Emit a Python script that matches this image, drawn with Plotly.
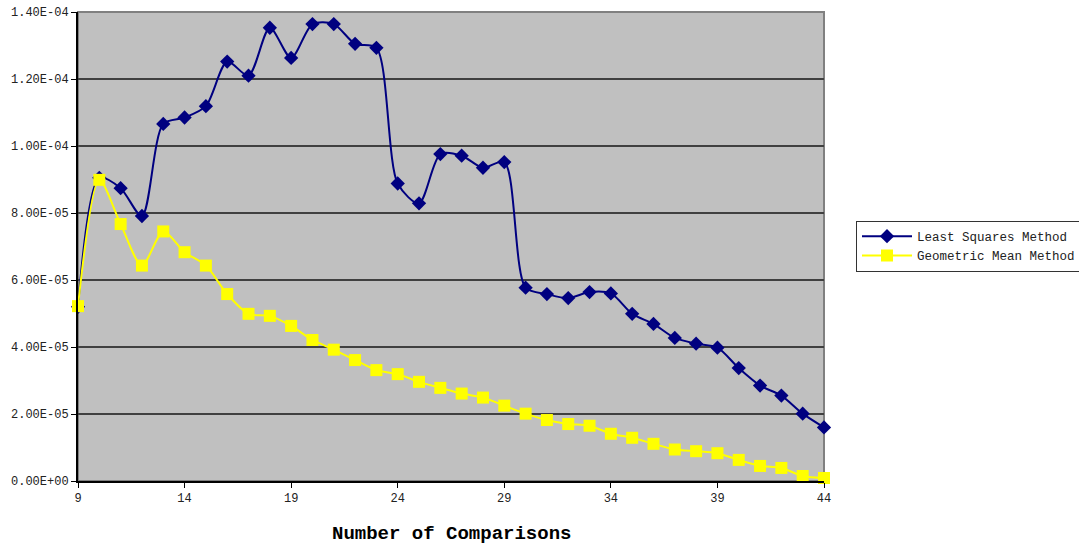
import plotly.graph_objects as go

# Number of comparisons (x categories)
comparisons = list(range(9, 45))

# Least squares method error values
least_squares = [
    52.0e-6, 90.5e-6, 87.4e-6, 79.1e-6, 106.6e-6, 108.5e-6, 111.9e-6, 125.2e-6,
    121.0e-6, 135.3e-6, 126.3e-6, 136.4e-6, 136.4e-6, 130.5e-6, 129.3e-6, 88.8e-6,
    82.9e-6, 97.6e-6, 97.1e-6, 93.5e-6, 95.2e-6, 57.7e-6, 55.8e-6, 54.6e-6,
    56.4e-6, 56.0e-6, 49.9e-6, 46.9e-6, 42.7e-6, 41.0e-6, 39.8e-6, 33.7e-6,
    28.5e-6, 25.5e-6, 20.1e-6, 16.0e-6,
]

# Geometric mean method error values
geometric_mean = [
    52.2e-6, 89.9e-6, 76.7e-6, 64.3e-6, 74.5e-6, 68.3e-6, 64.3e-6, 55.8e-6,
    49.9e-6, 49.3e-6, 46.3e-6, 42.1e-6, 39.2e-6, 36.1e-6, 33.1e-6, 31.9e-6,
    29.6e-6, 27.8e-6, 26.1e-6, 24.9e-6, 22.5e-6, 20.1e-6, 18.2e-6, 17.0e-6,
    16.5e-6, 14.1e-6, 12.9e-6, 11.1e-6, 9.4e-6, 8.9e-6, 8.3e-6, 6.3e-6,
    4.5e-6, 3.9e-6, 1.5e-6, 0.9e-6,
]

x_ticks = [9, 14, 19, 24, 29, 34, 39, 44]
y_ticks = [0, 2e-5, 4e-5, 6e-5, 8e-5, 1e-4, 1.2e-4, 1.4e-4]
y_ticktext = [f"{v:.2E}" for v in y_ticks]

FONT = "Liberation Mono"
W, H = 1079, 548

fig = go.Figure()
fig.add_trace(go.Scatter(
    x=comparisons, y=least_squares, name="Least Squares Method",
    mode="lines+markers",
    line=dict(color="#000080", width=2, shape="spline", smoothing=0.8),
    marker=dict(symbol="diamond", size=11, color="#000080"),
    cliponaxis=False,
))
fig.add_trace(go.Scatter(
    x=comparisons, y=geometric_mean, name="Geometric Mean Method",
    mode="lines+markers",
    line=dict(color="#FFFF00", width=2, shape="spline", smoothing=0.8),
    marker=dict(symbol="square", size=12, color="#FFFF00"),
    cliponaxis=False,
))

# Plot-area frame (grey top/right edges)
fig.add_shape(type="rect", xref="x domain", yref="y domain",
              x0=0, x1=1, y0=0, y1=1, line=dict(color="#808080", width=2),
              layer="below")

# Axis title below the tick labels
fig.add_annotation(
    text="<b>Number of Comparisons</b>", showarrow=False,
    xref="x domain", x=0.5, xanchor="center",
    yref="paper", y=-(534 - 481) / (H - 12 - 67), yanchor="middle",
    font=dict(family=FONT, size=19, color="black"),
)

fig.update_layout(
    width=W, height=H,
    margin=dict(l=78, r=255, t=12, b=67),
    paper_bgcolor="white",
    plot_bgcolor="#C0C0C0",
    font=dict(family=FONT, size=12, color="#222222"),
    showlegend=True,
    legend=dict(
        x=856 / W, xref="container", y=1 - 246 / H, yref="container",
        xanchor="left", yanchor="middle",
        bgcolor="white", bordercolor="#333333", borderwidth=1,
        font=dict(family=FONT, size=12.5, color="#222222"),
        itemwidth=50, tracegroupgap=6,
    ),
)
fig.update_xaxes(
    range=[9, 44], tickmode="array", tickvals=x_ticks,
    showgrid=False, zeroline=False, automargin=False,
    showline=True, linecolor="black", linewidth=2,
    ticks="outside", ticklen=5, tickcolor="black",
    tickfont=dict(family=FONT, size=12),
)
fig.update_yaxes(
    range=[0, 1.4e-4], tickmode="array", tickvals=y_ticks, ticktext=y_ticktext,
    showgrid=True, gridcolor="#404040", gridwidth=1.5,
    zeroline=False, automargin=False,
    showline=True, linecolor="black", linewidth=2,
    ticks="outside", ticklen=5, tickcolor="black",
    tickfont=dict(family=FONT, size=12),
)

fig.write_html("out.html")
